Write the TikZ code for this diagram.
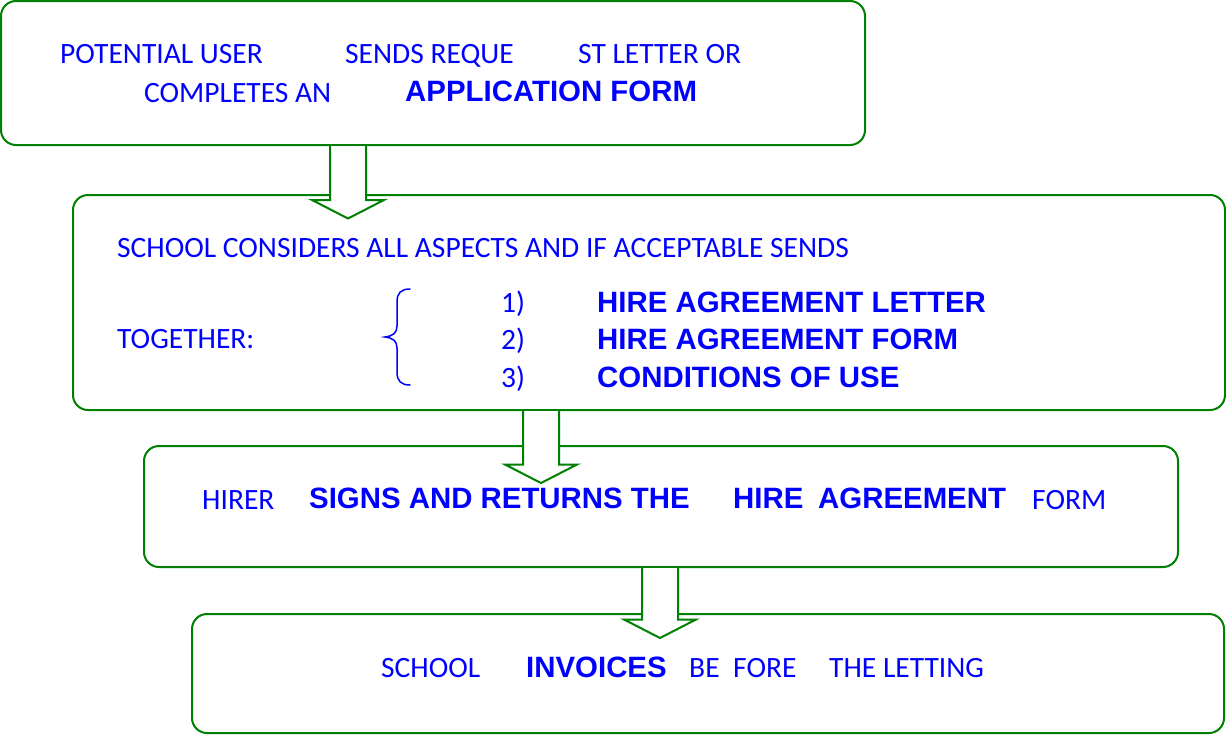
\documentclass[tikz,border=0pt]{standalone}
\usepackage{fontspec}
\usetikzlibrary{calc}
\newfontfamily\carl{Carlito}
\newfontfamily\arb{Liberation Sans}
\definecolor{bgreen}{RGB}{0,128,0}
\definecolor{tblue}{RGB}{0,0,255}
\tikzset{
  flowbox/.style={draw=bgreen, line width=2pt, rounded corners=15pt, fill=white,
    inner sep=0pt, outer sep=0pt, anchor=north west},
  txt/.style={font=\carl\fontsize{29.5}{34}\selectfont, text=tblue, anchor=base west, inner sep=0pt},
  btxt/.style={font=\arb\bfseries\fontsize{29.4}{34}\selectfont, text=tblue, anchor=base west, inner sep=0pt},
  arrowline/.style={draw=bgreen, line width=2pt, line join=miter},
  bracestyle/.style={draw=tblue, line width=1.5pt, line cap=round}
}
\newcommand\blkarrow[2]{%
  \fill[white] ($(#1.south -| #2)+(-18,1.2)$) -- ($(#2)+(-18,-18.5)$) -- ($(#2)+(-36,-18.5)$)
     -- (#2) -- ($(#2)+(36,-18.5)$) -- ($(#2)+(18,-18.5)$) -- ($(#1.south -| #2)+(18,1.2)$) -- cycle;
  \draw[arrowline] ($(#1.south -| #2)+(-18,0)$) -- ($(#2)+(-18,-18.5)$) -- ($(#2)+(-36,-18.5)$)
     -- (#2) -- ($(#2)+(36,-18.5)$) -- ($(#2)+(18,-18.5)$) -- ($(#1.south -| #2)+(18,0)$);
}
\begin{document}
\begin{tikzpicture}[x=1pt,y=-1pt]
\useasboundingbox (0,0) rectangle (1226,734);
% boxes
\node[flowbox, minimum width=864pt, minimum height=144pt] (b1) at (1,1) {};
\node[flowbox, minimum width=1152pt, minimum height=215pt] (b2) at (73,195) {};
\node[flowbox, minimum width=1034pt, minimum height=121pt] (b3) at (144,446) {};
\node[flowbox, minimum width=1032pt, minimum height=119pt] (b4) at (192,614) {};
% arrows
\coordinate (t1) at (348,218.5);
\coordinate (t2) at (541,483);
\coordinate (t3) at (660,638);
\blkarrow{b1}{t1}
\blkarrow{b2}{t2}
\blkarrow{b3}{t3}
% box 1 text
\node[txt] (l1a) at (60,63) {POTENTIAL USER};
\node[txt] (l1b) at (345,63) {SENDS REQUE};
\node[txt] (l1c) at (578,63) {ST LETTER OR};
\node[txt] (l1d) at (144,102) {COMPLETES AN};
\node[btxt] (l1e) at (405,101) {APPLICATION FORM};
% box 2 text
\node[txt] (l2a) at (117,257) {SCHOOL CONSIDERS ALL ASPECTS AND IF ACCEPTABLE SENDS};
\node[txt] (l2b) at (117,348) {TOGETHER:};
\node[txt] (n1) at (501,312) {1)};
\node[txt] (n2) at (501,349) {2)};
\node[txt] (n3) at (501,387) {3)};
\node[btxt] (i1) at (597,312) {HIRE AGREEMENT LETTER};
\node[btxt] (i2) at (597,349) {HIRE AGREEMENT FORM};
\node[btxt] (i3) at (597,387) {CONDITIONS OF USE};
\draw[bracestyle] (410,289) .. controls (401,289) and (397,293) .. (397,302) -- (397,326)
  .. controls (397,333) and (393,336) .. (385,337)
  .. controls (393,338) and (397,341) .. (397,348) -- (397,372)
  .. controls (397,381) and (401,385) .. (410,385);
% box 3 text
\node[txt] (l3a) at (202,509) {HIRER};
\node[btxt] (l3b) at (309,508) {SIGNS AND RETURNS THE};
\node[btxt] (l3c) at (733,508) {HIRE};
\node[btxt] (l3d) at (818,508) {AGREEMENT};
\node[txt] (l3e) at (1032,509) {FORM};
% box 4 text
\node[txt] (l4a) at (381,677) {SCHOOL};
\node[btxt] (l4b) at (526,677) {INVOICES};
\node[txt] (l4c) at (689,677) {BE};
\node[txt] (l4d) at (733,677) {FORE};
\node[txt] (l4e) at (829,677) {THE LETTING};
\end{tikzpicture}
\end{document}
